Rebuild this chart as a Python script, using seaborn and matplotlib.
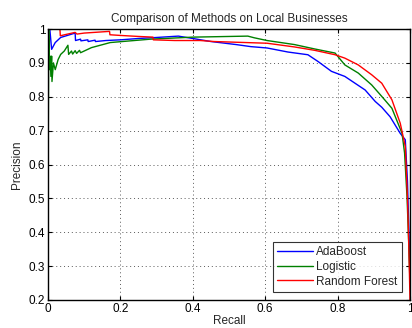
import matplotlib
matplotlib.use("Agg")
import matplotlib.pyplot as plt
import seaborn as sns
import pandas as pd

ada_recall = [0, 0.005, 0.01, 0.02, 0.035, 0.075, 0.076, 0.09, 0.091, 0.11, 0.111, 0.13, 0.131, 0.16,
              0.2, 0.25, 0.3, 0.36, 0.40, 0.45, 0.52, 0.56, 0.605, 0.663, 0.718, 0.746, 0.783, 0.82,
              0.848, 0.876, 0.904, 0.922, 0.945, 0.973, 0.987, 0.993, 0.997, 1.0]
ada_prec = [1.0, 1.0, 0.94, 0.96, 0.975, 0.988, 0.966, 0.970, 0.965, 0.968, 0.963, 0.967, 0.963, 0.966,
            0.968, 0.972, 0.975, 0.979, 0.972, 0.963, 0.954, 0.948, 0.944, 0.932, 0.924, 0.904, 0.875, 0.86,
            0.84, 0.82, 0.786, 0.769, 0.741, 0.692, 0.673, 0.55, 0.40, 0.27]

log_recall = [0, 0.002, 0.004, 0.006, 0.008, 0.01, 0.011, 0.015, 0.02, 0.028, 0.035, 0.045, 0.055, 0.057,
              0.065, 0.068, 0.075, 0.079, 0.087, 0.09, 0.12, 0.172, 0.283, 0.40, 0.552, 0.57, 0.605, 0.681,
              0.737, 0.793, 0.82, 0.857, 0.894, 0.922, 0.95, 0.978, 0.985, 0.992, 0.997, 1.0]
log_prec = [0.5, 1.0, 0.88, 0.92, 0.86, 0.92, 0.845, 0.90, 0.88, 0.91, 0.925, 0.935, 0.952, 0.925,
            0.935, 0.926, 0.936, 0.928, 0.937, 0.93, 0.945, 0.96, 0.97, 0.976, 0.979, 0.974, 0.966, 0.954,
            0.941, 0.929, 0.894, 0.870, 0.835, 0.801, 0.766, 0.692, 0.634, 0.50, 0.35, 0.25]

rf_recall = [0, 0.033, 0.034, 0.05, 0.075, 0.08, 0.1, 0.17, 0.171, 0.2, 0.25, 0.29, 0.291, 0.35, 0.42,
             0.459, 0.605, 0.681, 0.737, 0.793, 0.82, 0.857, 0.894, 0.922, 0.95, 0.973, 0.987, 0.993,
             0.997, 1.0]
rf_prec = [1.0, 1.0, 0.98, 0.984, 0.99, 0.985, 0.988, 0.993, 0.983, 0.981, 0.978, 0.976, 0.968, 0.966,
           0.966, 0.963, 0.958, 0.947, 0.937, 0.924, 0.914, 0.894, 0.865, 0.84, 0.791, 0.722, 0.653, 0.50,
           0.35, 0.2]

methods = ["AdaBoost", "Logistic", "Random Forest"]
colors = ["#0000ff", "#008000", "#ff0000"]

rows = []
for m, rr, pp in zip(methods, [ada_recall, log_recall, rf_recall], [ada_prec, log_prec, rf_prec]):
    for i, (r, p) in enumerate(zip(rr, pp)):
        rows.append({"Method": m, "Recall": r, "Precision": p, "order": i})
df = pd.DataFrame(rows)

sns.set_style("white")
plt.rcParams['font.family'] = ['Liberation Sans', 'DejaVu Sans']

fig = plt.figure(figsize=(4.12, 3.28), dpi=100)
ax = fig.add_axes([48/412, 1-300/328, (410-48)/412, (300-29)/328])

sns.lineplot(data=df, x="Recall", y="Precision", hue="Method", hue_order=methods,
             palette=colors, sort=False, estimator=None, units="Method", linewidth=1.0, ax=ax)

ax.set_xlim(0, 1)
ax.set_ylim(0.2, 1)
xt = [0, 0.2, 0.4, 0.6, 0.8, 1]
yt = [0.2, 0.3, 0.4, 0.5, 0.6, 0.7, 0.8, 0.9, 1]
ax.set_xticks(xt)
ax.set_xticklabels(["0", "0.2", "0.4", "0.6", "0.8", "1"])
ax.set_yticks(yt)
ax.set_yticklabels(["0.2", "0.3", "0.4", "0.5", "0.6", "0.7", "0.8", "0.9", "1"])
ax.tick_params(direction="in", length=3, width=0.8, labelsize=8.5, pad=2, top=True, right=True,
               bottom=True, left=True, colors="black")
ax.grid(True, linestyle=(0, (1, 3)), color="0.35", linewidth=0.7)
for s in ax.spines.values():
    s.set_visible(True)
    s.set_color("black")
    s.set_linewidth(1.0)

ax.set_title("Comparison of Methods on Local Businesses", fontsize=8.5, pad=5)
ax.set_xlabel("Recall", fontsize=8.5, labelpad=0)
ax.set_ylabel("Precision", fontsize=8.5, labelpad=4)

leg = ax.legend(loc="lower right", fontsize=8.5, frameon=True, fancybox=False, edgecolor="black",
                borderaxespad=0.7, handlelength=3.0, handletextpad=0.3, labelspacing=0.25,
                borderpad=0.35)
leg.get_frame().set_linewidth(0.8)
leg.set_title(None)

fig.savefig("out.png", dpi=100)
